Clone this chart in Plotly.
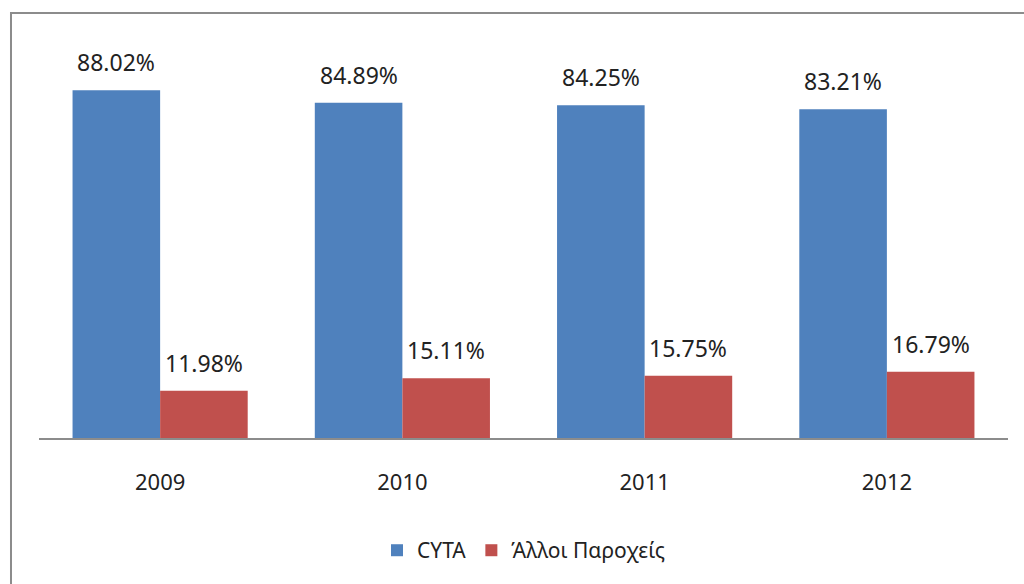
import plotly.graph_objects as go

years = ["2009", "2010", "2011", "2012"]
cyta = [88.02, 84.89, 84.25, 83.21]
others = [11.98, 15.11, 15.75, 16.79]
series_names = ["CYTA", "Άλλοι Παροχείς"]
colors = ["#4F81BD", "#C0504D"]

FONT = "Noto Sans, Open Sans, sans-serif"

fig = go.Figure()
for name, vals, col in zip(series_names, [cyta, others], colors):
    fig.add_trace(go.Bar(x=years, y=vals, name=name, marker_color=col,
                         marker_line_width=0))

bw = 87.5
for vals, shift in [(cyta, -bw / 2), (others, bw / 2)]:
    for i, v in enumerate(vals):
        fig.add_annotation(x=i, y=v, xshift=shift, yshift=10, yanchor="bottom",
                           text=f"{v:.2f}%", showarrow=False,
                           font=dict(size=23, color="#222", family=FONT))

fig.add_shape(type="rect", xref="paper", yref="paper", x0=-0.0289, x1=1.2,
              y0=-0.6, y1=1.076, line=dict(color="#8c8c8c", width=2),
              fillcolor="rgba(0,0,0,0)", layer="below")

fig.update_layout(
    width=1024, height=584,
    margin=dict(l=39, r=16, t=43, b=146, autoexpand=False),
    paper_bgcolor="white", plot_bgcolor="white",
    barmode="group", bargap=0.277, bargroupgap=0,
    font=dict(family=FONT, size=21, color="#222"),
    showlegend=True,
    legend=dict(orientation="h", x=0.5, xanchor="center", y=-0.285,
                yanchor="middle", font=dict(size=21), itemwidth=30),
    xaxis=dict(type="category", range=[-0.5, 3.5], showline=True,
               linecolor="#8c8c8c", linewidth=2, ticks="",
               tickfont=dict(size=22),
               ticklabelstandoff=24, showgrid=False, automargin=False),
    yaxis=dict(range=[0, 100], visible=False, showgrid=False, automargin=False),
)

fig.write_html("out.html", post_script="document.body.style.margin='0';",
               config={"displayModeBar": False})
